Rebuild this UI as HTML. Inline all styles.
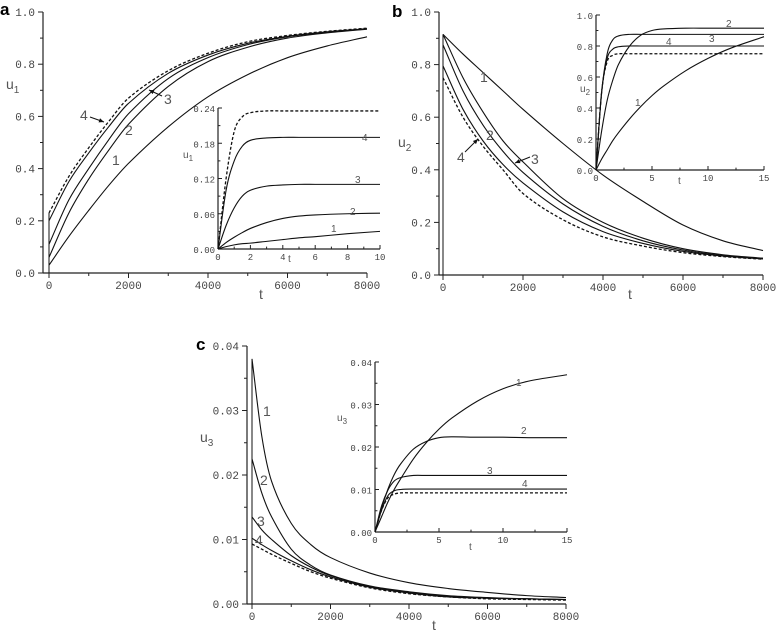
<!DOCTYPE html>
<html><head><meta charset="utf-8"><style>
html,body{margin:0;padding:0;background:#fff;}
svg{display:block;font-family:"Liberation Mono",monospace;}
.tk{font-size:11px;fill:#444;}
.ti{font-size:9px;fill:#444;}
.lb{font-family:"Liberation Sans",sans-serif;font-size:14px;fill:#555;}
.lbi{font-family:"Liberation Sans",sans-serif;font-size:10px;fill:#555;}
.pl{font-family:"Liberation Sans",sans-serif;font-weight:bold;font-size:17px;fill:#000;}
</style></head><body>
<svg id="fig" width="778" height="632" viewBox="0 0 778 632" xmlns="http://www.w3.org/2000/svg"></svg>
<script>
// ---------- Panel a main (u1 vs t) ----------
const aT = [0,500,1000,1500,2000,3000,4000,5000,6000,7000,8000];
const aS1 = [0.03,0.14,0.24,0.335,0.42,0.56,0.675,0.76,0.825,0.87,0.905];
const aS2 = [0.06,0.23,0.36,0.47,0.57,0.715,0.81,0.865,0.90,0.92,0.934];
const aS3 = [0.11,0.28,0.40,0.51,0.61,0.745,0.825,0.875,0.905,0.922,0.935];
const aS4 = [0.20,0.35,0.46,0.56,0.65,0.765,0.835,0.88,0.907,0.924,0.936];
const aSd = [0.23,0.37,0.48,0.58,0.67,0.775,0.842,0.886,0.91,0.926,0.938];
// ---------- Panel a inset ----------
const aiT = [0,0.5,1,1.5,2,3,4,5,6,8,10];
const aiS1 = [0,0.004,0.007,0.009,0.010,0.013,0.016,0.019,0.021,0.026,0.030];
const aiS2 = [0,0.011,0.020,0.028,0.035,0.045,0.052,0.056,0.058,0.060,0.061];
const aiS3 = [0,0.040,0.070,0.090,0.100,0.107,0.109,0.110,0.110,0.110,0.110];
const aiS4 = [0,0.100,0.150,0.175,0.185,0.189,0.190,0.190,0.190,0.190,0.190];
const aiSd = [0,0.120,0.200,0.225,0.232,0.235,0.235,0.235,0.235,0.235,0.235];
// ---------- Panel b main (u2) ----------
const bT = [0,500,1000,1500,2000,3000,4000,5000,6000,7000,8000];
const bS1 = [0.915,0.84,0.77,0.70,0.63,0.50,0.38,0.28,0.19,0.13,0.093];
const bS2 = [0.915,0.75,0.62,0.51,0.43,0.29,0.20,0.14,0.100,0.077,0.064];
const bS3 = [0.875,0.70,0.57,0.47,0.39,0.27,0.185,0.13,0.095,0.074,0.063];
const bS4 = [0.795,0.63,0.51,0.42,0.35,0.24,0.165,0.12,0.090,0.072,0.061];
const bSd = [0.75,0.60,0.49,0.40,0.31,0.21,0.145,0.11,0.085,0.070,0.060];
// ---------- Panel b inset ----------
const biT = [0,0.5,1,1.5,2,3,4,5,6,8,10,12,15];
const biS1 = [0,0.07,0.13,0.19,0.24,0.33,0.41,0.48,0.54,0.64,0.72,0.785,0.86];
const biS2 = [0,0.25,0.45,0.58,0.68,0.80,0.87,0.90,0.91,0.915,0.915,0.915,0.915];
const biS3 = [0,0.50,0.75,0.84,0.865,0.875,0.875,0.875,0.875,0.875,0.875,0.875,0.875];
const biS4 = [0,0.50,0.72,0.78,0.795,0.80,0.80,0.80,0.80,0.80,0.80,0.80,0.80];
const biSd = [0,0.50,0.70,0.74,0.75,0.75,0.75,0.75,0.75,0.75,0.75,0.75,0.75];
// ---------- Panel c main (u3) ----------
const cT = [0,250,500,1000,1500,2000,3000,4000,5000,6000,7000,8000];
const cS1 = [0.038,0.026,0.019,0.0125,0.0092,0.0072,0.0048,0.0033,0.0024,0.0018,0.0013,0.0010];
const cS2 = [0.0225,0.0172,0.0135,0.0085,0.0060,0.0045,0.0028,0.0019,0.0013,0.0010,0.0008,0.0007];
const cS3 = [0.0135,0.0115,0.0100,0.0075,0.0057,0.0044,0.0027,0.0018,0.0012,0.0009,0.0008,0.0007];
const cS4 = [0.0102,0.0092,0.0083,0.0067,0.0053,0.0042,0.0026,0.0017,0.0011,0.0009,0.0008,0.0007];
const cSd = [0.0093,0.0085,0.0077,0.0063,0.0050,0.0040,0.0025,0.0016,0.0011,0.0008,0.0007,0.0006];
// ---------- Panel c inset ----------
const ciT = [0,0.5,1,1.5,2,3,4,5,6,8,10,12,15];
const ciS1 = [0,0.0035,0.007,0.010,0.0125,0.0172,0.021,0.0242,0.0268,0.0308,0.0337,0.0355,0.037];
const ciS2 = [0,0.0055,0.010,0.0135,0.016,0.0195,0.0213,0.0222,0.0224,0.0223,0.0223,0.0222,0.0222];
const ciS3 = [0,0.006,0.0098,0.012,0.0128,0.0133,0.0133,0.0133,0.0133,0.0133,0.0133,0.0133,0.0133];
const ciS4 = [0,0.005,0.0085,0.0097,0.0100,0.0101,0.0101,0.0101,0.0101,0.0101,0.0101,0.0101,0.0101];
const ciSd = [0,0.005,0.0080,0.0089,0.0092,0.0092,0.0092,0.0092,0.0092,0.0092,0.0092,0.0092,0.0092];
// tick labels
const mainXTicks = ["0","2000","4000","6000","8000"];
const aYTicks = ["0.0","0.2","0.4","0.6","0.8","1.0"];
const aiYTicks = ["0.00","0.06","0.12","0.18","0.24"];
const aiXTicks = ["0","2","4","6","8","10"];
const biYTicks = ["0.0","0.2","0.4","0.6","0.8","1.0"];
const biXTicks = ["0","5","10","15"];
const cYTicks = ["0.00","0.01","0.02","0.03","0.04"];

const NS="http://www.w3.org/2000/svg";
const svg=document.getElementById('fig');
function mk(tag,attrs,parent,txt){const e=document.createElementNS(NS,tag);for(const k in attrs)e.setAttribute(k,attrs[k]);if(txt!==undefined)e.textContent=txt;(parent||svg).appendChild(e);return e;}

function scale(d0,d1,p0,p1){return v=>p0+(v-d0)/(d1-d0)*(p1-p0);}
function pathD(xs,ys){
  const n=xs.length;
  const m=xs.map((x,k)=>{
    const a=Math.max(k-1,0),b=Math.min(k+1,n-1);
    return (ys[b]-ys[a])/(xs[b]-xs[a]);
  });
  let d='M'+xs[0].toFixed(2)+','+ys[0].toFixed(2);
  for(let i=0;i<n-1;i++){
    const dx=xs[i+1]-xs[i];
    const c1=[xs[i]+dx/3,ys[i]+m[i]*dx/3];
    const c2=[xs[i+1]-dx/3,ys[i+1]-m[i+1]*dx/3];
    d+=' C'+c1[0].toFixed(2)+','+c1[1].toFixed(2)+' '+c2[0].toFixed(2)+','+c2[1].toFixed(2)+' '+xs[i+1].toFixed(2)+','+ys[i+1].toFixed(2);
  }
  return d;
}
function series(g,sx,sy,T,V,name,dashed,jump,w){
  const d=pathD(T.map(sx),V.map(sy));
  const p=mk('path',{d:d,fill:'none',stroke:'#111','stroke-width':w||1.1,'stroke-dasharray':dashed?'3,2':'none'},g);
  
  
  if(jump){
    const j=mk('line',{x1:sx(T[0]),x2:sx(T[0]),y1:sy(0),y2:sy(V[0]),stroke:'#111','stroke-width':1},g);
    
    
  }
}
function axes(g,o){
  const sx=scale(o.xd[0],o.xd[1],o.px0,o.px1), sy=scale(o.yd[0],o.yd[1],o.py0,o.py1);
  const ax=mk('g',{},g);
  mk('line',{x1:o.axL,x2:o.px1,y1:o.py0,y2:o.py0,stroke:'#222','stroke-width':1.2},ax);
  mk('line',{x1:o.axL,x2:o.axL,y1:o.py0,y2:o.py1,stroke:'#222','stroke-width':1.2},ax);
  const dir=o.inside?-1:1, tl=o.inside?4:5;
  const nx=o.xt.length, ny=o.yt.length;
  for(let i=0;i<nx;i++){
    const v=o.xd[0]+(o.xd[1]-o.xd[0])*i/(nx-1), x=sx(v);
    mk('line',{x1:x,x2:x,y1:o.py0,y2:o.py0+dir*tl,stroke:'#222'},ax);
    if(i<nx-1){const xm=sx(v+(o.xd[1]-o.xd[0])/(nx-1)/2);mk('line',{x1:xm,x2:xm,y1:o.py0,y2:o.py0+dir*tl*0.6,stroke:'#222'},ax);}
    mk('text',{x:x,y:o.py0+(o.inside?11:16),'text-anchor':'middle',class:o.inside?'ti':'tk'},ax,o.xt[i]);
  }
  for(let i=0;i<ny;i++){
    const v=o.yd[0]+(o.yd[1]-o.yd[0])*i/(ny-1), y=sy(v);
    mk('line',{x1:o.axL,x2:o.axL-dir*tl,y1:y,y2:y,stroke:'#222'},ax);
    if(i<ny-1){const ym=sy(v+(o.yd[1]-o.yd[0])/(ny-1)/2);mk('line',{x1:o.axL,x2:o.axL-dir*tl*0.6,y1:ym,y2:ym,stroke:'#222'},ax);}
    mk('text',{x:o.axL-(o.inside?3:8),y:y+4,'text-anchor':'end',class:o.inside?'ti':'tk'},ax,o.yt[i]);
  }
  return {sx,sy};
}
function txt(x,y,cls,s,name){const t=mk('text',{x:x,y:y,class:cls},svg,s);return t;}
function ylab(x,y,sub,big,name){const t=mk('text',{x:x,y:y,class:big?'lb':'lbi'},svg);mk('tspan',{},t,'u');mk('tspan',{dy:big?4:3,'font-size':big?10:8},t,sub);}
function arrow(x1,y1,x2,y2,name){const g=mk('g',{},svg);
  mk('line',{x1,y1,x2,y2,stroke:'#111','stroke-width':1},g);
  const a=Math.atan2(y2-y1,x2-x1),L=5,W=2.2;
  const pts=[[x2,y2],[x2-L*Math.cos(a)+W*Math.sin(a),y2-L*Math.sin(a)-W*Math.cos(a)],[x2-L*Math.cos(a)-W*Math.sin(a),y2-L*Math.sin(a)+W*Math.cos(a)]];
  mk('polygon',{points:pts.map(p=>p.join(',')).join(' '),fill:'#111'},g);}
function group(name){const g=mk('g',{});return g;}

// ===== Panel a =====
let g=group('panel-a');
let s=axes(g,{name:'a-main',xd:[0,8000],yd:[0,1],px0:49,px1:367,py0:273,py1:12,axL:43,xt:mainXTicks,yt:aYTicks});
series(g,s.sx,s.sy,aT,aS1,'a-curve-1',false,true);
series(g,s.sx,s.sy,aT,aS2,'a-curve-2',false,true);
series(g,s.sx,s.sy,aT,aS3,'a-curve-3',false,true);
series(g,s.sx,s.sy,aT,aS4,'a-curve-4',false,true);
series(g,s.sx,s.sy,aT,aSd,'a-curve-dashed',true,true,1.3);
txt(0,15,'pl','a','panel-a-label');
ylab(6,89,'1',true,'a-y-axis-title');
txt(259,299,'lb','t','a-x-axis-title');
txt(112,165,'lb','1','a-label-1');txt(125,135,'lb','2','a-label-2');txt(164,104,'lb','3','a-label-3');txt(80,120,'lb','4','a-label-4');
arrow(90,117,104,122,'a-arrow-4');arrow(162,96,149,90,'a-arrow-3');
let gi=group('panel-a-inset');
s=axes(gi,{name:'a-inset',xd:[0,10],yd:[0,0.24],px0:218,px1:380,py0:249,py1:108,axL:218,xt:aiXTicks,yt:aiYTicks,inside:true});
series(gi,s.sx,s.sy,aiT,aiS1,'a-inset-curve-1');
series(gi,s.sx,s.sy,aiT,aiS2,'a-inset-curve-2');
series(gi,s.sx,s.sy,aiT,aiS3,'a-inset-curve-3');
series(gi,s.sx,s.sy,aiT,aiS4,'a-inset-curve-4');
series(gi,s.sx,s.sy,aiT,aiSd,'a-inset-curve-dashed',true,false,1.3);
txt(331,232,'lbi','1','a-inset-label-1');txt(350,215,'lbi','2','a-inset-label-2');txt(355,183,'lbi','3','a-inset-label-3');txt(362,141,'lbi','4','a-inset-label-4');
ylab(183,158,'1',false,'a-inset-y-title');txt(288,262,'lbi','t','a-inset-x-title');

// ===== Panel b =====
g=group('panel-b');
s=axes(g,{name:'b-main',xd:[0,8000],yd:[0,1],px0:443,px1:763,py0:275,py1:12,axL:439,xt:mainXTicks,yt:aYTicks});
series(g,s.sx,s.sy,bT,bS1,'b-curve-1',false,true);
series(g,s.sx,s.sy,bT,bS2,'b-curve-2',false,true);
series(g,s.sx,s.sy,bT,bS3,'b-curve-3',false,true);
series(g,s.sx,s.sy,bT,bS4,'b-curve-4',false,true);
series(g,s.sx,s.sy,bT,bSd,'b-curve-dashed',true,true,1.3);
txt(392,17,'pl','b','panel-b-label');
ylab(398,147,'2',true,'b-y-axis-title');
txt(628,299,'lb','t','b-x-axis-title');
txt(480,82,'lb','1','b-label-1');txt(486,140,'lb','2','b-label-2');txt(531,164,'lb','3','b-label-3');txt(457,162,'lb','4','b-label-4');
arrow(465,152,478,139,'b-arrow-4');arrow(530,157,515,163,'b-arrow-3');
gi=group('panel-b-inset');
s=axes(gi,{name:'b-inset',xd:[0,15],yd:[0,1],px0:596,px1:764,py0:170,py1:15,axL:596,xt:biXTicks,yt:biYTicks,inside:true});
series(gi,s.sx,s.sy,biT,biS1,'b-inset-curve-1');
series(gi,s.sx,s.sy,biT,biS2,'b-inset-curve-2');
series(gi,s.sx,s.sy,biT,biS3,'b-inset-curve-3');
series(gi,s.sx,s.sy,biT,biS4,'b-inset-curve-4');
series(gi,s.sx,s.sy,biT,biSd,'b-inset-curve-dashed',true,false,1.3);
txt(635,106,'lbi','1','b-inset-label-1');txt(726,27,'lbi','2','b-inset-label-2');txt(709,42,'lbi','3','b-inset-label-3');txt(666,45,'lbi','4','b-inset-label-4');
ylab(580,92,'2',false,'b-inset-y-title');txt(678,184,'lbi','t','b-inset-x-title');

// ===== Panel c =====
g=group('panel-c');
s=axes(g,{name:'c-main',xd:[0,8000],yd:[0,0.04],px0:252,px1:566,py0:604,py1:346,axL:247,xt:mainXTicks,yt:cYTicks});
series(g,s.sx,s.sy,cT,cS1,'c-curve-1',false,true);
series(g,s.sx,s.sy,cT,cS2,'c-curve-2',false,true);
series(g,s.sx,s.sy,cT,cS3,'c-curve-3',false,true);
series(g,s.sx,s.sy,cT,cS4,'c-curve-4',false,true);
series(g,s.sx,s.sy,cT,cSd,'c-curve-dashed',true,true,1.3);
txt(196,350,'pl','c','panel-c-label');
ylab(200,442,'3',true,'c-y-axis-title');
txt(432,630,'lb','t','c-x-axis-title');
txt(263,416,'lb','1','c-label-1');txt(260,485,'lb','2','c-label-2');txt(257,526,'lb','3','c-label-3');txt(255,545,'lb','4','c-label-4');
gi=group('panel-c-inset');
s=axes(gi,{name:'c-inset',xd:[0,15],yd:[0,0.04],px0:375,px1:567,py0:532,py1:362,axL:375,xt:biXTicks,yt:cYTicks,inside:true});
series(gi,s.sx,s.sy,ciT,ciS1,'c-inset-curve-1');
series(gi,s.sx,s.sy,ciT,ciS2,'c-inset-curve-2');
series(gi,s.sx,s.sy,ciT,ciS3,'c-inset-curve-3');
series(gi,s.sx,s.sy,ciT,ciS4,'c-inset-curve-4');
series(gi,s.sx,s.sy,ciT,ciSd,'c-inset-curve-dashed',true,false,1.3);
txt(516,386,'lbi','1','c-inset-label-1');txt(521,434,'lbi','2','c-inset-label-2');txt(487,474,'lbi','3','c-inset-label-3');txt(522,487,'lbi','4','c-inset-label-4');
ylab(337,421,'3',false,'c-inset-y-title');txt(469,550,'lbi','t','c-inset-x-title');
</script>
</body></html>
